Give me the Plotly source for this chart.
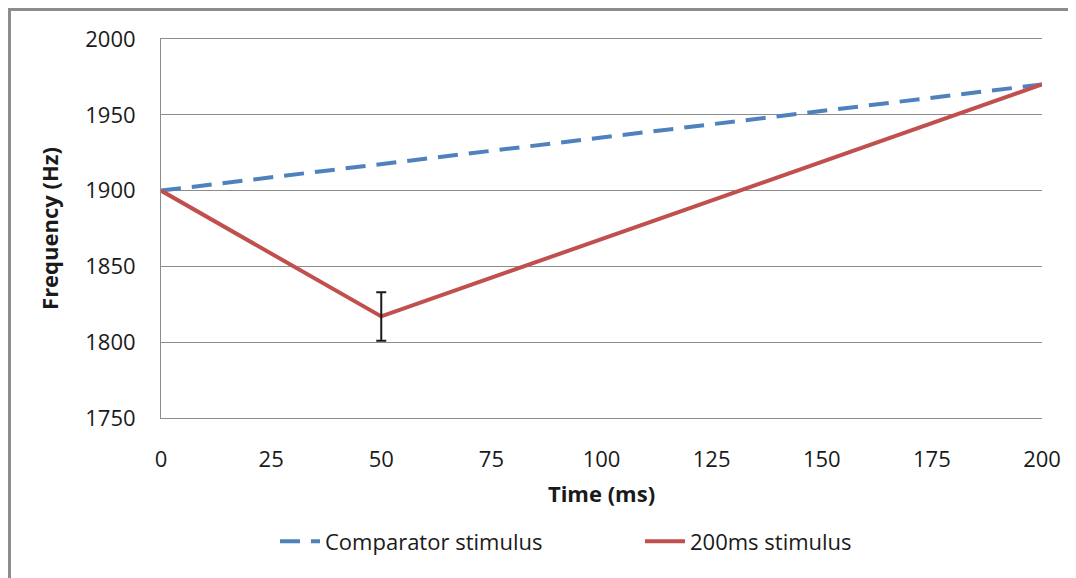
import plotly.graph_objects as go

# Data
comp_time = [0, 200]
comp_freq = [1900, 1970]
stim_time = [0, 50, 200]
stim_freq = [1900, 1817, 1970]
err_time = [50]
err_freq = [1817]
err_size = [16]

x_ticks = [0, 25, 50, 75, 100, 125, 150, 175, 200]
y_ticks = [1750, 1800, 1850, 1900, 1950, 2000]

FONT = "Open Sans"
GRID = "#8c8c8c"

fig = go.Figure()
fig.add_trace(go.Scatter(
    x=comp_time, y=comp_freq, mode="lines", name="Comparator stimulus",
    line=dict(color="#4F81BD", width=4, dash="20px,11px"),
))
fig.add_trace(go.Scatter(
    x=stim_time, y=stim_freq, mode="lines", name="200ms stimulus",
    line=dict(color="#C0504D", width=4),
))
fig.add_trace(go.Scatter(
    x=err_time, y=err_freq, mode="markers", showlegend=False,
    marker=dict(size=1, opacity=0),
    error_y=dict(type="data", array=err_size, visible=True,
                 color="#1a1a1a", thickness=2, width=5),
    hoverinfo="skip",
))

W, H = 1068, 570
ML, MT = 153, 31
PW, PH = 881, 379

fig.update_layout(
    width=W, height=H,
    margin=dict(l=ML, r=W - ML - PW, t=MT, b=H - MT - PH),
    paper_bgcolor="white", plot_bgcolor="white",
    font=dict(family=FONT, size=22, color="#1a1a1a"),
    showlegend=True,
    legend=dict(orientation="h", x=(275 - 161) / PW, xanchor="left", y=-0.27, yanchor="top",
                font=dict(size=22), itemwidth=40, entrywidth=310, entrywidthmode="pixels"),
    shapes=[dict(type="rect", xref="paper", yref="paper",
                 x0=(1.5 - ML) / PW, x1=1.2, y0=-1, y1=1 + (MT - 1.5) / PH,
                 line=dict(color="#8c8c8c", width=3), layer="below")],
)
fig.update_xaxes(
    range=[0, 200], tickvals=x_ticks, ticktext=[str(v) for v in x_ticks],
    showgrid=False, showline=True, mirror=True, linecolor=GRID, linewidth=1,
    zeroline=False, ticks="", ticklabelstandoff=22,
    title=dict(text="<b>Time (ms)</b>", standoff=14, font=dict(size=22)),
)
fig.update_yaxes(
    range=[1750, 2000], tickvals=y_ticks, ticktext=[str(v) for v in y_ticks],
    showgrid=True, gridcolor=GRID, gridwidth=1,
    showline=True, linecolor=GRID, linewidth=1, zeroline=False,
    ticks="", ticklabelstandoff=20,
    title=dict(text="<b>Frequency (Hz)</b>", standoff=20, font=dict(size=22)),
)

fig.write_html("out.html")
